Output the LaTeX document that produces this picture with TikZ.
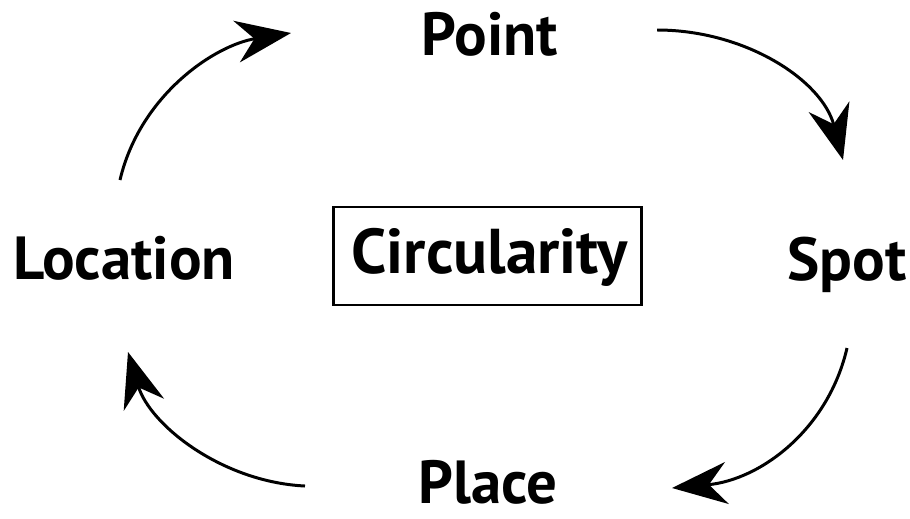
\documentclass[tikz,border=0pt]{standalone}
\usepackage{fontspec}
\setmainfont{PT Sans}
\usetikzlibrary{arrows.meta}
\begin{document}
\begin{tikzpicture}[x=0.01cm,y=-0.01cm,
  lbl/.style={font=\fontsize{17.3}{20}\selectfont\bfseries, inner sep=0pt, anchor=base},
  cyc/.style={line width=0.85pt, -{Stealth[length=0.55cm,width=0.42cm,inset=0.18cm]}}]
\useasboundingbox (0,0) rectangle (910,518);
\node[lbl] (point) at (490,55) {Point};
\node[lbl] (spot) at (847,280) {Spot};
\node[lbl] (place) at (488,503) {Place};
\node[lbl] (loc) at (124,279) {Location};
\node[draw, line width=0.7pt, minimum width=3.08cm, minimum height=0.98cm] (circ) at (487.5,256) {};
\node[lbl, font=\fontsize{18}{20}\selectfont\bfseries] (circt) at (489.5,273) {Circularity};
\coordinate (a1) at (120,180); \coordinate (b1) at (291,33);
\coordinate (a2) at (657,30);  \coordinate (b2) at (843,160);
\coordinate (a3) at (847,348); \coordinate (b3) at (672,488);
\coordinate (a4) at (305,486); \coordinate (b4) at (128,352);
\draw[cyc] (a1) .. controls (140,95) and (215,45) .. (b1);
\draw[cyc] (a2) .. controls (745,30) and (822,80) .. (b2);
\draw[cyc] (a3) .. controls (828,430) and (760,480) .. (b3);
\draw[cyc] (a4) .. controls (222,482) and (150,425) .. (b4);
\end{tikzpicture}
\end{document}
